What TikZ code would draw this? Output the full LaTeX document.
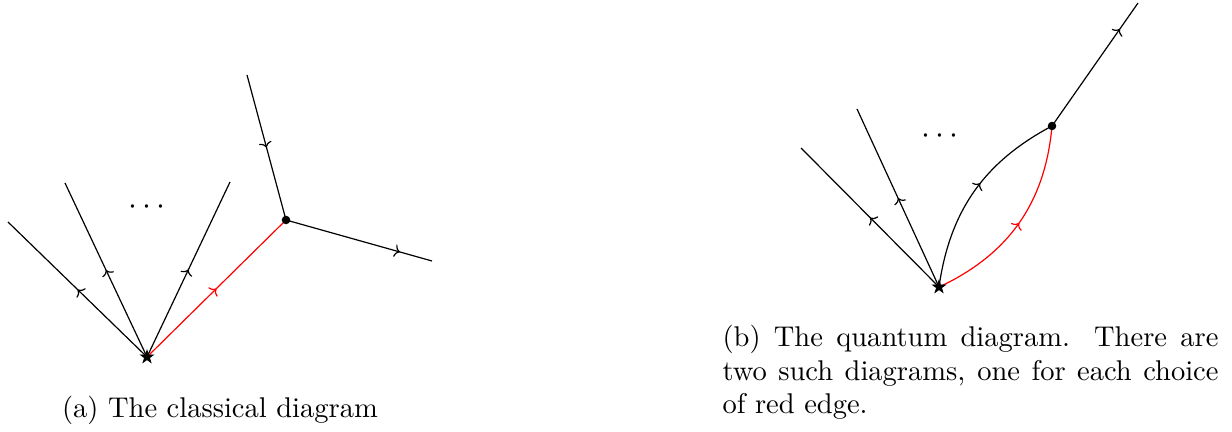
\documentclass[tikz,border=0pt]{standalone}
\usepackage{tikz}
\usetikzlibrary{shapes.geometric, arrows.meta, decorations.markings, backgrounds}

\begin{document}
\begin{tikzpicture}[
    x=0.375pt, y=-0.375pt,
    edge/.style={line width=0.45pt},
    redge/.style={edge, red},
    midarrow/.style={postaction={decorate, decoration={markings, mark=at position #1 with {\arrow{To[length=2pt, width=4.8pt]}}}}},
    midarrow/.default=0.5,
    source/.style={star, star points=5, star point ratio=2.6, fill, draw, line width=0.3pt, inner sep=0pt, minimum size=5pt},
    vertex/.style={circle, fill, inner sep=0pt, minimum size=3.2pt},
    ellipsis/.style={anchor=base, inner sep=0pt, font=\fontsize{13}{15}\selectfont},
    caption/.style={inner sep=0pt, font=\fontsize{10.7}{12.4}\selectfont},
]
    \useasboundingbox (0,0) rectangle (1232,432);

    % Classical diagram
    \node[source] (sa) at (147,357) {};
    \node[vertex] (va) at (286,220) {};
    \coordinate (a1) at (8,222);
    \coordinate (a2) at (65,183);
    \coordinate (a3) at (230,182);
    \coordinate (a4) at (247,75);
    \coordinate (a5) at (432,261);
    \node[ellipsis] (dotsa) at (147,215) {$\cdots$};

    \begin{scope}[on background layer]
        \draw[edge, midarrow] (sa.center) -- (a1);
        \draw[edge, midarrow] (sa.center) -- (a2);
        \draw[edge, midarrow] (sa.center) -- (a3);
        \draw[redge, midarrow] (sa.center) -- (va.center);
        \draw[edge, midarrow] (a4) -- (va.center);
        \draw[edge, midarrow=0.78] (va.center) -- (a5);
    \end{scope}

    % Quantum diagram
    \node[source] (sb) at (939,287) {};
    \node[vertex] (vb) at (1052,126) {};
    \coordinate (b1) at (801,148);
    \coordinate (b2) at (857,109);
    \coordinate (b3) at (1138,3);
    \node[ellipsis] (dotsb) at (940,144) {$\cdots$};

    \begin{scope}[on background layer]
        \draw[edge, midarrow] (sb.center) -- (b1);
        \draw[edge, midarrow] (sb.center) -- (b2);
        \draw[edge, midarrow=0.55] (sb.center) to[bend left=27] (vb.center);
        \draw[redge, midarrow] (sb.center) to[bend right=30] (vb.center);
        \draw[edge, midarrow=0.79] (vb.center) -- (b3);
    \end{scope}

    % Captions
    \node[caption, anchor=base] (capa) at (220,418) {(a) The classical diagram};
    \node[caption, anchor=base west, text width=186pt, align=justify] (capb) at (722,347)
        {(b) The quantum diagram.  There are\linebreak two such diagrams, one for each choice of red edge.};
\end{tikzpicture}
\end{document}
